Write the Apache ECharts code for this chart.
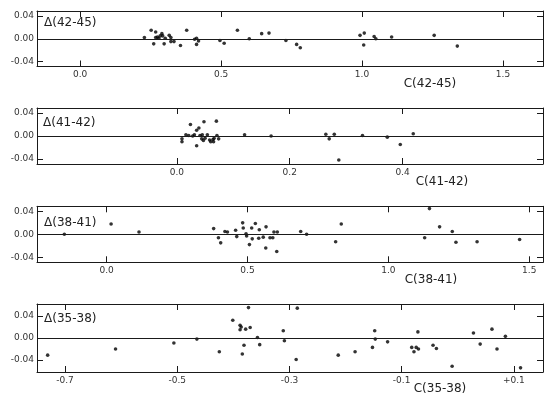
<!DOCTYPE html>
<html>
<head>
<meta charset="utf-8">
<script src="https://cdn.jsdelivr.net/npm/echarts@6/dist/echarts.min.js"></script>
<style>
html,body{margin:0;padding:0;background:#fff;}
#chart{width:560px;height:404px;}
</style>
</head>
<body>
<div id="chart"></div>
<script>
// ---- Panel 1: Δ(42-45) vs C(42-45)
var p1X = [0.228,0.252,0.261,0.268,0.268,0.274,0.279,0.284,0.290,0.293,0.298,0.302,0.316,0.322,0.322,0.333,0.356,0.378,0.406,0.413,0.413,0.420,0.496,0.511,0.558,0.600,0.644,0.670,0.730,0.768,0.781,0.993,1.008,1.006,1.043,1.049,1.105,1.256,1.338];
var p1Y = [0.002,0.015,-0.009,0.012,0.002,0.003,0.001,0.005,0.009,0.005,-0.009,0.001,0.006,0.002,-0.005,-0.005,-0.012,0.015,-0.001,0.001,-0.010,-0.004,-0.003,-0.008,0.015,0.000,0.009,0.010,-0.003,-0.010,-0.016,0.006,0.010,-0.011,0.004,0.000,0.003,0.006,-0.013];
// ---- Panel 2: Δ(41-42) vs C(41-42)
var p2X = [0.009,0.009,0.016,0.024,0.021,0.028,0.031,0.035,0.035,0.039,0.041,0.044,0.045,0.048,0.047,0.050,0.054,0.058,0.060,0.064,0.066,0.070,0.071,0.074,0.065,0.120,0.167,0.264,0.270,0.279,0.287,0.329,0.373,0.396,0.419];
var p2Y = [-0.005,-0.010,0.002,0.020,0.001,0.000,0.002,-0.017,0.010,0.014,0.001,-0.005,0.002,0.025,-0.008,-0.004,0.002,-0.007,-0.010,-0.006,-0.004,0.026,0.001,-0.005,-0.010,0.002,0.000,0.003,-0.005,0.003,-0.042,0.001,-0.002,-0.015,0.004];
// ---- Panel 3: Δ(38-41) vs C(38-41)
var p3X = [-0.150,0.016,0.115,0.380,0.397,0.405,0.420,0.429,0.458,0.462,0.483,0.485,0.495,0.497,0.507,0.515,0.517,0.528,0.542,0.540,0.556,0.565,0.566,0.580,0.590,0.594,0.604,0.606,0.689,0.710,0.813,0.833,1.146,1.129,1.182,1.227,1.240,1.315,1.466];
var p3Y = [0.000,0.018,0.004,0.010,-0.006,-0.015,0.005,0.004,0.007,-0.004,0.020,0.011,0.001,-0.003,-0.018,0.011,-0.008,0.019,0.008,-0.007,-0.005,-0.024,0.013,-0.006,-0.006,0.004,-0.030,0.004,0.005,0.000,-0.013,0.018,0.045,-0.006,0.013,0.005,-0.014,-0.013,-0.009];
// ---- Panel 4: Δ(35-38) vs C(35-38)
var p4X = [-0.731,-0.610,-0.506,-0.465,-0.425,-0.401,-0.388,-0.386,-0.388,-0.378,-0.370,-0.373,-0.381,-0.384,-0.357,-0.353,-0.311,-0.309,-0.286,-0.288,-0.213,-0.183,-0.152,-0.148,-0.147,-0.125,-0.082,-0.078,-0.074,-0.071,-0.070,-0.044,-0.038,-0.010,0.028,0.040,0.061,0.070,0.085,0.112];
var p4Y = [-0.031,-0.020,-0.009,-0.002,-0.025,0.032,0.023,0.020,0.015,0.016,0.019,0.055,-0.013,-0.029,0.001,-0.012,0.013,-0.005,0.054,-0.039,-0.031,-0.025,-0.017,0.013,-0.002,-0.007,-0.017,-0.025,-0.017,0.011,-0.020,-0.013,-0.019,-0.051,0.009,-0.011,0.016,-0.020,0.003,-0.054];

// ---- tick labels
var yTickVals = [-0.04, 0, 0.04];
var yTickText = ['-0.04', '0.00', '0.04'];
var x1TickVals = [0, 0.5, 1.0, 1.5];   var x1TickText = ['0.0', '0.5', '1.0', '1.5'];
var x2TickVals = [0, 0.2, 0.4];        var x2TickText = ['0.0', '0.2', '0.4'];
var x3TickVals = [0, 0.5, 1.0, 1.5];   var x3TickText = ['0.0', '0.5', '1.0', '1.5'];
var x4TickVals = [-0.7, -0.5, -0.3, -0.1, 0.1]; var x4TickText = ['-0.7', '-0.5', '-0.3', '-0.1', '+0.1'];

var deltaLabels = ['\u0394(42-45)', '\u0394(41-42)', '\u0394(38-41)', '\u0394(35-38)'];
var axisTitles = ['C(42-45)', 'C(41-42)', 'C(38-41)', 'C(35-38)'];

var panels = [
  {xs: p1X, ys: p1Y, xv: x1TickVals, xt: x1TickText, xmin: -0.153, xmax: 1.642, ymax: 0.049, top: 11, h: 55.5},
  {xs: p2X, ys: p2Y, xv: x2TickVals, xt: x2TickText, xmin: -0.248, xmax: 0.649, ymax: 0.049, top: 108, h: 56},
  {xs: p3X, ys: p3Y, xv: x3TickVals, xt: x3TickText, xmin: -0.247, xmax: 1.549, ymax: 0.049, top: 206.3, h: 56},
  {xs: p4X, ys: p4Y, xv: x4TickVals, xt: x4TickText, xmin: -0.750, xmax: 0.152, ymax: 0.0615, top: 304, h: 68}
];
var deltaPos = [[44, 17], [43, 117], [44, 217], [44, 313]];
var titlePos = [[430, 84], [442, 182], [431, 280], [440, 389]];

function lookup(vals, texts) {
  return function (v) {
    for (var i = 0; i < vals.length; i++) if (Math.abs(vals[i] - v) < 1e-6) return texts[i];
    return '';
  };
}

var FONT = 'DejaVu Sans';
var INK = '#1a1a1a';
var grid = [], xAxis = [], yAxis = [], series = [], graphic = [];

panels.forEach(function (p, i) {
  grid.push({left: 37, right: 17, top: p.top, height: p.h});
  var line = {show: true, onZero: false, lineStyle: {color: INK, width: 1}};
  // bottom x
  xAxis.push({
    type: 'value', gridIndex: i, position: 'bottom', min: p.xmin, max: p.xmax,
    axisLine: line, splitLine: {show: false},
    axisTick: {show: true, inside: true, length: 6, customValues: p.xv, lineStyle: {color: INK}},
    axisLabel: {customValues: p.xv, formatter: lookup(p.xv, p.xt), fontSize: 9, fontFamily: FONT, color: '#333', margin: 4}
  });
  // top x
  xAxis.push({
    type: 'value', gridIndex: i, position: 'top', min: p.xmin, max: p.xmax,
    axisLine: line, splitLine: {show: false},
    axisTick: {show: true, inside: true, length: 6, customValues: p.xv, lineStyle: {color: INK}},
    axisLabel: {show: false}
  });
  // left y
  yAxis.push({
    type: 'value', gridIndex: i, position: 'left', min: -p.ymax, max: p.ymax,
    axisLine: line, splitLine: {show: false},
    axisTick: {show: true, inside: true, length: 6, customValues: yTickVals, lineStyle: {color: INK}},
    axisLabel: {customValues: yTickVals, formatter: lookup(yTickVals, yTickText), fontSize: 9, fontFamily: FONT, color: '#333', margin: 3}
  });
  // right y
  yAxis.push({
    type: 'value', gridIndex: i, position: 'right', min: -p.ymax, max: p.ymax,
    axisLine: line, splitLine: {show: false},
    axisTick: {show: true, inside: true, length: 6, customValues: yTickVals, lineStyle: {color: INK}},
    axisLabel: {show: false}
  });
  var data = p.xs.map(function (x, k) { return [x, p.ys[k]]; });
  series.push({
    type: 'scatter', xAxisIndex: 2 * i, yAxisIndex: 2 * i, data: data,
    symbol: 'circle', symbolSize: 3.6, itemStyle: {color: '#000'},
    silent: true,
    markLine: {
      silent: true, symbol: 'none', label: {show: false}, animation: false,
      lineStyle: {color: INK, width: 1, type: 'solid'},
      data: [{yAxis: 0}]
    }
  });
  graphic.push({
    type: 'text', left: deltaPos[i][0], top: deltaPos[i][1],
    style: {text: deltaLabels[i], font: '12px "' + FONT + '"', fill: '#222'}
  });
  graphic.push({
    type: 'text', x: titlePos[i][0], y: titlePos[i][1],
    style: {text: axisTitles[i], font: '12px "' + FONT + '"', fill: '#222', align: 'center', verticalAlign: 'middle'}
  });
});

var chart = echarts.init(document.getElementById('chart'), null, {renderer: 'canvas'});
chart.setOption({
  backgroundColor: '#fff',
  animation: false,
  grid: grid, xAxis: xAxis, yAxis: yAxis, series: series, graphic: graphic
});
</script>
</body>
</html>
